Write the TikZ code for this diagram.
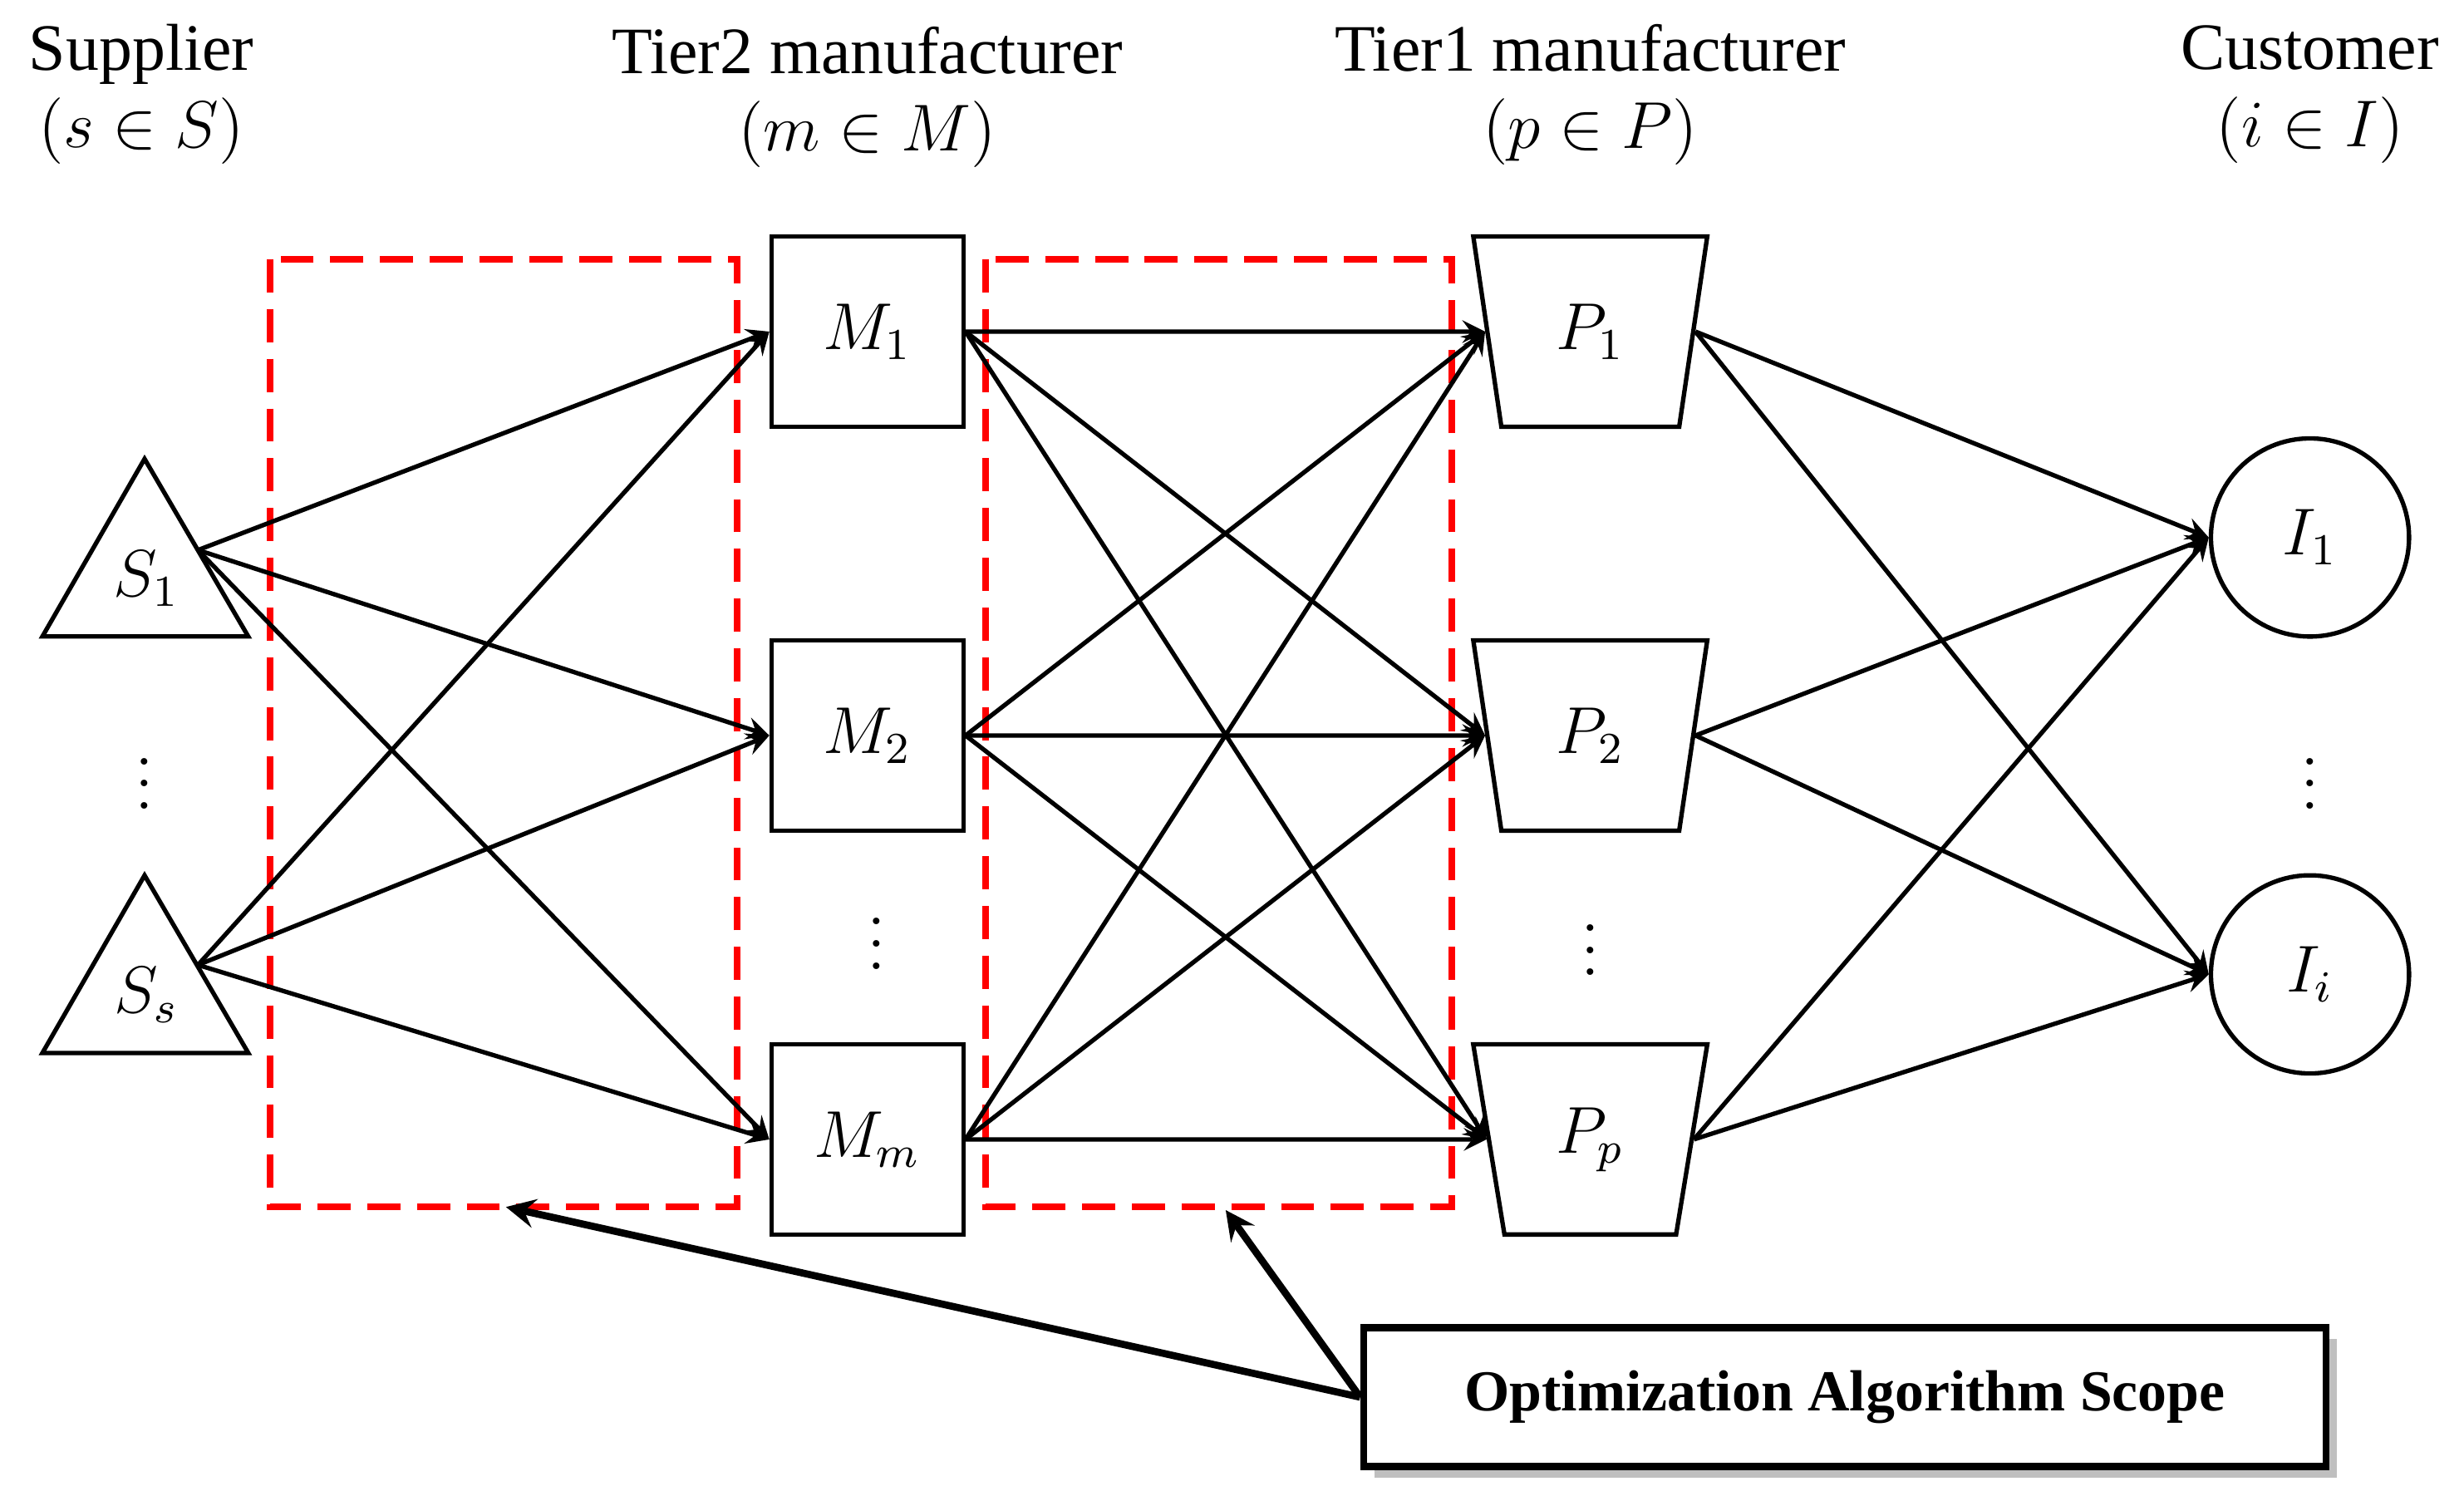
\documentclass[tikz,border=0pt]{standalone}
\usepackage{fontspec}
\setmainfont{Liberation Serif}
\usetikzlibrary{shapes.geometric,shadows}
\begin{document}
\begin{tikzpicture}[x=0.01cm,y=-0.01cm,font=\fontsize{12}{14}\selectfont]
\tikzstyle{head} = [align=center, font=\fontsize{12}{14}\selectfont]
\tikzstyle{tier2} = [rectangle, minimum width=1.22cm, minimum height=1.21cm, draw=black, thick, inner sep=0pt]
\tikzstyle{tier1} = [trapezium, trapezium angle=79, trapezium stretches=true, shape border rotate=180, minimum width=1.49cm, minimum height=1.21cm, draw=black, thick, inner sep=0pt]
\tikzstyle{cust} = [circle, minimum size=1.26cm, draw=black, thick, inner sep=0pt]
\tikzstyle{dots} = [inner sep=0pt, font=\fontsize{10}{10}\selectfont]
\tikzstyle{scope} = [draw=red, dashed, very thick, dash pattern=on 6pt off 3pt]
\tikzstyle{arrow} = [thick,->,>=stealth]
\tikzstyle{bigarrow} = [line width=1.3pt,->,>=stealth]

\useasboundingbox (0,0) rectangle (1568,955);

% headers
\node (hs) [head] at (90,60) {Supplier\\$(s\in S)$};
\node (hm) [head] at (552,62) {Tier2 manufacturer\\$(m\in M)$};
\node (hp) [head] at (1012,60) {Tier1 manufacturer\\$(p\in P)$};
\node (hi) [head] at (1470,60) {Customer\\$(i\in I)$};

% suppliers
\draw[thick] (92,292) -- (158,405) -- (27,405) -- cycle;
\draw[thick] (92,557) -- (158,670) -- (27,670) -- cycle;
\node (s1) at (93,368) {$S_1$};
\node (ss) at (93,633) {$S_s$};
\coordinate (s1r) at (126,350);
\coordinate (ssr) at (126,614);
\node (sd) [dots] at (92,488) {$\vdots$};

% tier2
\node (m1) [tier2] at (552,211) {$M_1$};
\node (m2) [tier2] at (552,468) {$M_2$};
\node (mm) [tier2] at (552,725) {$M_m$};
\node (md) [dots] at (558,590) {$\vdots$};

% tier1
\node (p1) [tier1] at (1012,211) {$P_1$};
\node (p2) [tier1] at (1012,468) {$P_2$};
\node (pp) [tier1] at (1012,725) {$P_p$};
\node (pd) [dots] at (1012,594) {$\vdots$};

% customers
\node (i1) [cust] at (1470,342) {$I_1$};
\node (ii) [cust] at (1470,620) {$I_i$};
\node (id) [dots] at (1470,488) {$\vdots$};

% scopes
\draw[scope] (172,165) rectangle (469,768);
\draw[scope] (627,165) rectangle (924,768);
\coordinate (sc1) at (322,768);
\coordinate (sc2) at (780,770);

\foreach \s in {s1r,ssr}
  \foreach \m in {m1,m2,mm}
    \draw [arrow] (\s) -- (\m.west);
\foreach \m in {m1,m2,mm}
  \foreach \p in {p1,p2,pp}
    \draw [arrow] (\m.east) -- (\p.west);
\foreach \p in {p1,p2,pp}
  \foreach \i in {i1,ii}
    \draw [arrow] (\p.east) -- (\i.west);

\node (alg) [draw=black, line width=1.3pt, fill=white, drop shadow={shadow xshift=2pt, shadow yshift=-2pt, opacity=0.5}, minimum width=6.12cm, minimum height=0.88cm, font=\bfseries\fontsize{10.5}{12}\selectfont] at (1174,889) {Optimization Algorithm Scope};
\draw [bigarrow] (alg.west) -- (sc1);
\draw [bigarrow] (alg.west) -- (sc2);
\end{tikzpicture}
\end{document}
